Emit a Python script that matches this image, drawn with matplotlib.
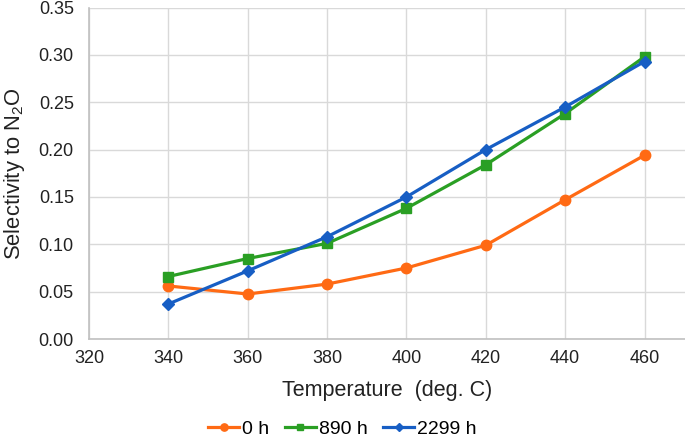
import numpy as np
from matplotlib import pyplot as plt

plt.rcParams['font.family'] = ['Liberation Sans', 'DejaVu Sans']
plt.rcParams['mathtext.fontset'] = 'custom'
plt.rcParams['mathtext.rm'] = 'Liberation Sans'
plt.rcParams['mathtext.it'] = 'Liberation Sans:italic'

temps = [340, 360, 380, 400, 420, 440, 460]
sel_0h = [0.056, 0.0475, 0.058, 0.075, 0.099, 0.147, 0.194]
sel_890h = [0.066, 0.085, 0.101, 0.138, 0.184, 0.238, 0.298]
sel_2299h = [0.037, 0.072, 0.108, 0.150, 0.200, 0.245, 0.293]
labels = ['0 h', '890 h', '2299 h']
x_ticks = [320, 340, 360, 380, 400, 420, 440, 460]
y_ticks = [0.00, 0.05, 0.10, 0.15, 0.20, 0.25, 0.30, 0.35]

fig = plt.figure(figsize=(6.85, 4.42), dpi=100)
ax = fig.add_axes([0.130, 0.233, 0.870, 0.750])

ax.plot(temps, sel_0h, color='#FF6A14', lw=2.3, marker='o', ms=7.5, label=labels[0])
ax.plot(temps, sel_890h, color='#2A9F24', lw=2.3, marker='s', ms=7, label=labels[1])
ax.plot(temps, sel_2299h, color='#175EC4', lw=2.3, marker='D', ms=6.5, label=labels[2])

ax.set_xlim(320, 470.2)
ax.set_ylim(0, 0.35)
ax.set_xticks(x_ticks)
ax.set_yticks(y_ticks)
ax.set_yticklabels([f'{v:.2f}' for v in y_ticks])
ax.tick_params(length=0, labelsize=13, colors='#222222')
ax.tick_params(axis='y', pad=11)
ax.tick_params(axis='x', pad=8)
ax.grid(True, color='#d9d9d9', lw=1)
ax.set_axisbelow(True)
for s in ['top', 'right']:
    ax.spines[s].set_visible(False)
for s in ['left', 'bottom']:
    ax.spines[s].set_color('#c0c0c0')
    ax.spines[s].set_linewidth(1.2)

ax.set_xlabel('Temperature  (deg. C)', fontsize=15.5, color='#222222', labelpad=9)
ax.set_ylabel('Selectivity to N$_2$O', fontsize=15.8, color='#222222', labelpad=8)

fig.legend(loc='center', bbox_to_anchor=(0.5, 0.03), ncol=3, frameon=False,
           fontsize=14, handlelength=1.6, handletextpad=0.15, columnspacing=0.8,
           markerscale=0.7, borderpad=0.2)

fig.savefig('out.png', dpi=100)
